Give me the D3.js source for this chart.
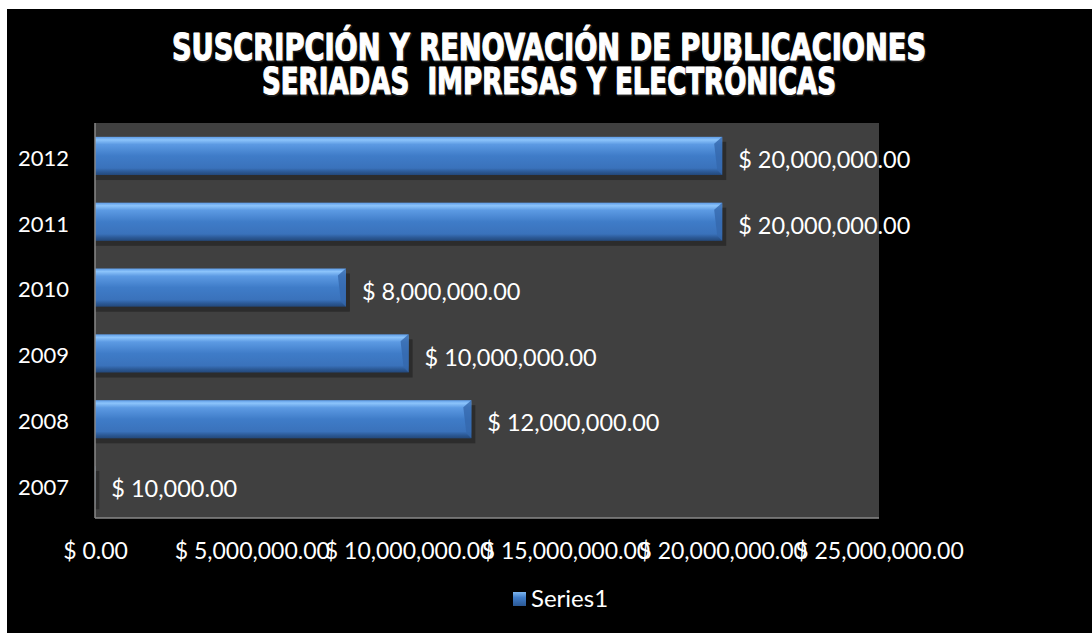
<!DOCTYPE html>
<html>
<head>
<meta charset="utf-8">
<script src="https://cdn.jsdelivr.net/npm/d3@7"></script>
<style>
  body { margin: 0; background: #fff; }
  svg text { font-family: Lato, "Open Sans", sans-serif; }
</style>
</head>
<body>
<div id="chart"></div>
<script>
// --------------------------------------
//  Data
// --------------------------------------
const years = ["2012", "2011", "2010", "2009", "2008", "2007"];
const amounts = [20000000, 20000000, 8000000, 10000000, 12000000, 10000];
const xTicks = [0, 5000000, 10000000, 15000000, 20000000, 25000000];
const titleLines = ["SUSCRIPCIÓN Y RENOVACIÓN DE PUBLICACIONES", "SERIADAS  IMPRESAS Y ELECTRÓNICAS"];
const seriesName = "Series1";

const data = years.map((y, i) => ({ year: y, value: amounts[i] }));

// --------------------------------------
//  Margin and canvas
// --------------------------------------
const width = 1092, height = 633;
const plot = { left: 95, right: 879, top: 123, bottom: 518 };

const svg = d3.select("#chart")
  .append("svg")
    .attr("width", width)
    .attr("height", height);

// black background with small white edge top/left
svg.append("rect")
  .attr("x", 7).attr("y", 9)
  .attr("width", width - 7).attr("height", height - 9)
  .attr("fill", "#000");

const defs = svg.append("defs");
const grad = defs.append("linearGradient")
  .attr("id", "barGrad")
  .attr("x1", 0).attr("y1", 0).attr("x2", 0).attr("y2", 1);
[[0, "#5d9be6"], [0.08, "#8cc4fb"], [0.2, "#5c9ae3"], [0.5, "#3f7cc8"], [0.82, "#3a72bb"], [0.92, "#2b5894"], [1, "#23487a"]]
  .forEach(([o, c]) => grad.append("stop").attr("offset", o).attr("stop-color", c));

const legGrad = defs.append("linearGradient")
  .attr("id", "legGrad")
  .attr("x1", 0).attr("y1", 0).attr("x2", 0).attr("y2", 1);
[[0, "#7db6f0"], [0.4, "#3f7cc8"], [1, "#2b5894"]]
  .forEach(([o, c]) => legGrad.append("stop").attr("offset", o).attr("stop-color", c));

// --------------------------------------
//  Scales
// --------------------------------------
const x = d3.scaleLinear()
  .domain([0, 25000000])
  .range([plot.left, plot.right]);

const y = d3.scaleBand()
  .domain(years)
  .range([plot.top, plot.bottom])
  .paddingInner(0.42)
  .paddingOuter(0.21);

const money = v => "$ " + d3.format(",.2f")(v);

// --------------------------------------
//  Plot area
// --------------------------------------
svg.append("rect")
  .attr("x", plot.left).attr("y", plot.top)
  .attr("width", plot.right - plot.left)
  .attr("height", plot.bottom - plot.top)
  .attr("fill", "#404040");

// --------------------------------------
//  Bars
// --------------------------------------
// shadows
svg.append("g")
  .selectAll("rect")
  .data(data)
  .join("rect")
    .attr("x", x(0))
    .attr("y", d => y(d.year) + 5)
    .attr("width", d => x(d.value) - x(0) + 4)
    .attr("height", y.bandwidth())
    .attr("fill", "#2c2c2c");

svg.append("g")
  .selectAll("rect")
  .data(data)
  .join("rect")
    .attr("x", x(0))
    .attr("y", d => y(d.year))
    .attr("width", d => x(d.value) - x(0))
    .attr("height", y.bandwidth())
    .attr("fill", "url(#barGrad)");

// right bevel edge
svg.append("g")
  .selectAll("path")
  .data(data.filter(d => x(d.value) - x(0) > 10))
  .join("path")
    .attr("d", d => {
      const x1 = x(d.value), y0 = y(d.year), h = y.bandwidth();
      return `M${x1 - 8},${y0 + 7} L${x1},${y0} L${x1},${y0 + h} L${x1 - 5},${y0 + h - 5} Z`;
    })
    .attr("fill", "#3468ad")
    .attr("opacity", 0.8);

// --------------------------------------
//  Axes
// --------------------------------------
svg.append("line")
  .attr("x1", plot.left).attr("x2", plot.left)
  .attr("y1", plot.top).attr("y2", plot.bottom)
  .attr("stroke", "#888").attr("stroke-width", 1.5);

svg.append("line")
  .attr("x1", plot.left).attr("x2", plot.right)
  .attr("y1", plot.bottom).attr("y2", plot.bottom)
  .attr("stroke", "#888").attr("stroke-width", 1.5);

const xAxis = svg.append("g")
  .attr("transform", `translate(0, ${plot.bottom})`)
  .call(d3.axisBottom(x).tickValues(xTicks).tickFormat(money).tickSize(0).tickPadding(25));
xAxis.select(".domain").remove();
xAxis.selectAll("text")
  .attr("fill", "#fff")
  .style("font-size", "23px")
  .style("font-family", "Lato, 'Open Sans', sans-serif");

const yAxis = svg.append("g")
  .attr("transform", `translate(${plot.left}, 0)`)
  .call(d3.axisLeft(y).tickSize(0).tickPadding(26));
yAxis.select(".domain").remove();
yAxis.selectAll("text")
  .attr("fill", "#fff")
  .attr("dy", "0.45em")
  .style("font-size", "22px")
  .style("font-family", "Lato, 'Open Sans', sans-serif");

// --------------------------------------
//  Data labels
// --------------------------------------
svg.append("g")
  .selectAll("text")
  .data(data)
  .join("text")
    .attr("x", d => x(d.value) + 16)
    .attr("y", d => y(d.year) + y.bandwidth() / 2 + 4)
    .attr("dy", "0.35em")
    .attr("fill", "#fff")
    .style("font-size", "23.5px")
    .text(d => money(d.value));

// --------------------------------------
//  Title (dark outline behind, thickened white on top)
// --------------------------------------
const title = svg.append("g");
const drawTitle = (fill, stroke, sw, dx, dy) => title.append("g")
  .selectAll("text")
  .data(titleLines)
  .join("text")
    .attr("x", 549 + dx)
    .attr("y", (d, i) => 60 + dy + i * 34)
    .attr("text-anchor", "middle")
    .attr("textLength", (d, i) => i === 0 ? 754 : 574)
    .attr("lengthAdjust", "spacingAndGlyphs")
    .attr("fill", fill)
    .attr("stroke", stroke)
    .attr("stroke-width", sw)
    .attr("stroke-linejoin", "round")
    .style("white-space", "pre")
    .style("font-family", "'DejaVu Sans Condensed', 'DejaVu Sans', sans-serif")
    .style("font-weight", "bold")
    .style("font-size", "37px")
    .text(d => d);

drawTitle("#1c1c1c", "#1c1c1c", 2.5, 1, 1);
drawTitle("#fff", "#fff", 1.2, 0, 0);

// --------------------------------------
//  Legend
// --------------------------------------
svg.append("rect")
  .attr("x", 513).attr("y", 592)
  .attr("width", 13).attr("height", 14)
  .attr("fill", "url(#legGrad)");

svg.append("text")
  .attr("x", 531).attr("y", 599)
  .attr("dy", "0.35em")
  .attr("fill", "#fff")
  .style("font-size", "24px")
  .text(seriesName);
</script>
</body>
</html>
